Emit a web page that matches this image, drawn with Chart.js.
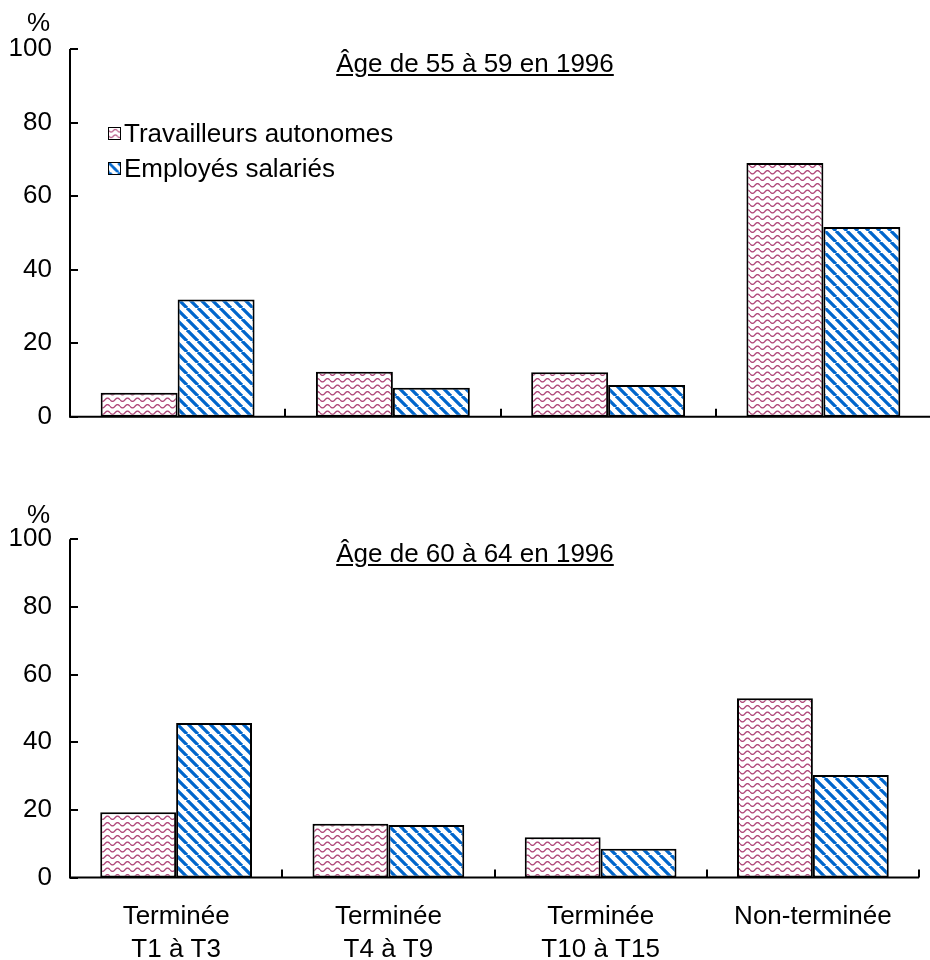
<!DOCTYPE html>
<html><head><meta charset="utf-8">
<script src="https://cdn.jsdelivr.net/npm/chart.js@4"></script>
<style>
html,body{margin:0;padding:0;overflow:hidden;background:#fff;width:930px;height:960px;position:relative}
.wrap{position:absolute;left:0;width:940px}
#w1{top:0;height:470px}
#w2{top:470px;height:490px}
.txt{position:absolute;font-family:"Liberation Sans",Arial,sans-serif;font-size:26px;color:#000;white-space:nowrap;line-height:26px}
.title{text-decoration:underline;transform:translateX(-50%)}
.leg{display:flex;align-items:center}
.leg canvas{width:13px;height:13px;box-sizing:border-box;border:1px solid #000;margin-right:3px}
</style></head>
<body>
<div class="wrap" id="w1"><canvas id="c1"></canvas></div>
<div class="wrap" id="w2"><canvas id="c2"></canvas></div>
<div class="txt" style="left:27px;top:9px">%</div>
<div class="txt" style="left:27px;top:501px">%</div>
<div class="txt title" id="t1" style="left:475px;top:50px"></div>
<div class="txt title" id="t2" style="left:475px;top:540px"></div>
<div class="txt leg" style="left:108px;top:120px"><canvas id="lg0" width="13" height="13"></canvas><span id="ln0"></span></div>
<div class="txt leg" style="left:108px;top:155px"><canvas id="lg1" width="13" height="13"></canvas><span id="ln1"></span></div>
<script>
// ---- data ----
const categories = [["Terminée","T1 à T3"],["Terminée","T4 à T9"],["Terminée","T10 à T15"],"Non-terminée"];
const seriesNames = ["Travailleurs autonomes","Employés salariés"];
const titles = ["Âge de 55 à 59 en 1996","Âge de 60 à 64 en 1996"];
const autonomes5559 = [6.5, 12.2, 12.1, 69.0];
const salaries5559 = [31.9, 7.9, 8.6, 51.6];
const autonomes6064 = [19.3, 15.9, 11.9, 53.0];
const salaries6064 = [45.7, 15.5, 8.5, 30.3];
const yTicks = [0, 20, 40, 60, 80, 100];

const FONT = '"Liberation Sans", Arial, sans-serif';
const PINK = '#b0487a';
const BLUE = '#0066cc';

function wavePattern(){
  const w=10,h=6.5,c=document.createElement('canvas');c.width=10;c.height=13;
  const g=c.getContext('2d');g.fillStyle='#fff';g.fillRect(0,0,10,13);
  g.strokeStyle=PINK;g.lineWidth=1.4;
  for(const off of [0,h]){
    g.beginPath();
    for(let i=0;i<=w*4;i++){const x=i/4;const yy=off+h/2+1.6*Math.sin(2*Math.PI*x/w);if(i===0)g.moveTo(x,yy);else g.lineTo(x,yy);}
    g.stroke();
  }
  return g.createPattern(c,'repeat');
}
function stripePattern(){
  const s=11,c=document.createElement('canvas');c.width=s;c.height=s;
  const g=c.getContext('2d');g.fillStyle='#fff';g.fillRect(0,0,s,s);
  g.strokeStyle=BLUE;g.lineWidth=3.3;g.beginPath();
  for(const k of [-s,0,s]){g.moveTo(k,0);g.lineTo(k+s,s);}
  g.stroke();
  return g.createPattern(c,'repeat');
}
const patterns=[wavePattern(),stripePattern()];

document.getElementById('t1').textContent=titles[0];
document.getElementById('t2').textContent=titles[1];
for(let i=0;i<2;i++){
  document.getElementById('ln'+i).textContent=seriesNames[i];
  const g=document.getElementById('lg'+i).getContext('2d');
  g.fillStyle=patterns[i];g.fillRect(0,0,13,13);
}

const axesPlugin={
  id:'axesDraw',
  afterDatasetsDraw(chart,args,opts){
    const {ctx,chartArea:a,scales:{x,y}}=chart;
    ctx.save();ctx.strokeStyle='#000';ctx.lineWidth=2;
    ctx.beginPath();
    ctx.moveTo(a.left,a.top);ctx.lineTo(a.left,a.bottom);ctx.lineTo(a.right,a.bottom);
    y.ticks.forEach(t=>{const py=Math.round(y.getPixelForValue(t.value));ctx.moveTo(a.left,py);ctx.lineTo(a.left+8,py);});
    for(let i=1;i<categories.length;i++){
      const px=Math.round((x.getPixelForValue(i-1)+x.getPixelForValue(i))/2);
      ctx.moveTo(px,a.bottom);ctx.lineTo(px,a.bottom-8);
    }
    if(opts.endTick){ctx.moveTo(a.right,a.bottom);ctx.lineTo(a.right,a.bottom-8);}
    ctx.stroke();ctx.restore();
  }
};

function makeChart(id,dataA,dataB,cfg){
  return new Chart(document.getElementById(id),{
    type:'bar',
    data:{labels:categories,datasets:[
      {label:seriesNames[0],data:dataA,backgroundColor:patterns[0],borderColor:'#000',borderWidth:2,borderSkipped:false},
      {label:seriesNames[1],data:dataB,backgroundColor:patterns[1],borderColor:'#000',borderWidth:2,borderSkipped:false}
    ]},
    options:{
      responsive:true,maintainAspectRatio:false,animation:false,
      devicePixelRatio:1,
      layout:{padding:{left:0,top:cfg.top,right:cfg.right,bottom:0}},
      plugins:{legend:{display:false},tooltip:{enabled:false},axesDraw:{endTick:cfg.endTick}},
      datasets:{bar:{categoryPercentage:0.715,barPercentage:1.0}},
      scales:{
        x:{grid:{display:false,drawTicks:false},border:{display:false},
           ticks:{display:cfg.xLabels,color:'#000',padding:23,maxRotation:0,autoSkip:false,font:{family:FONT,size:26,lineHeight:1.27}},
           afterFit:s=>{s.height=cfg.xh;}},
        y:{min:0,max:100,grid:{display:false,drawTicks:false},border:{display:false},
           afterBuildTicks:s=>{s.ticks=yTicks.map(v=>({value:v}));},
           ticks:{color:'#000',padding:18,font:{family:FONT,size:26}},
           afterFit:s=>{s.width=70;}}
      }
    },
    plugins:[axesPlugin]
  });
}
makeChart('c1',autonomes5559,salaries5559,{top:49,right:9,xh:53.3,xLabels:false,endTick:false});
makeChart('c2',autonomes6064,salaries6064,{top:69.3,right:21,xh:82.5,xLabels:true,endTick:true});
</script>
</body></html>
